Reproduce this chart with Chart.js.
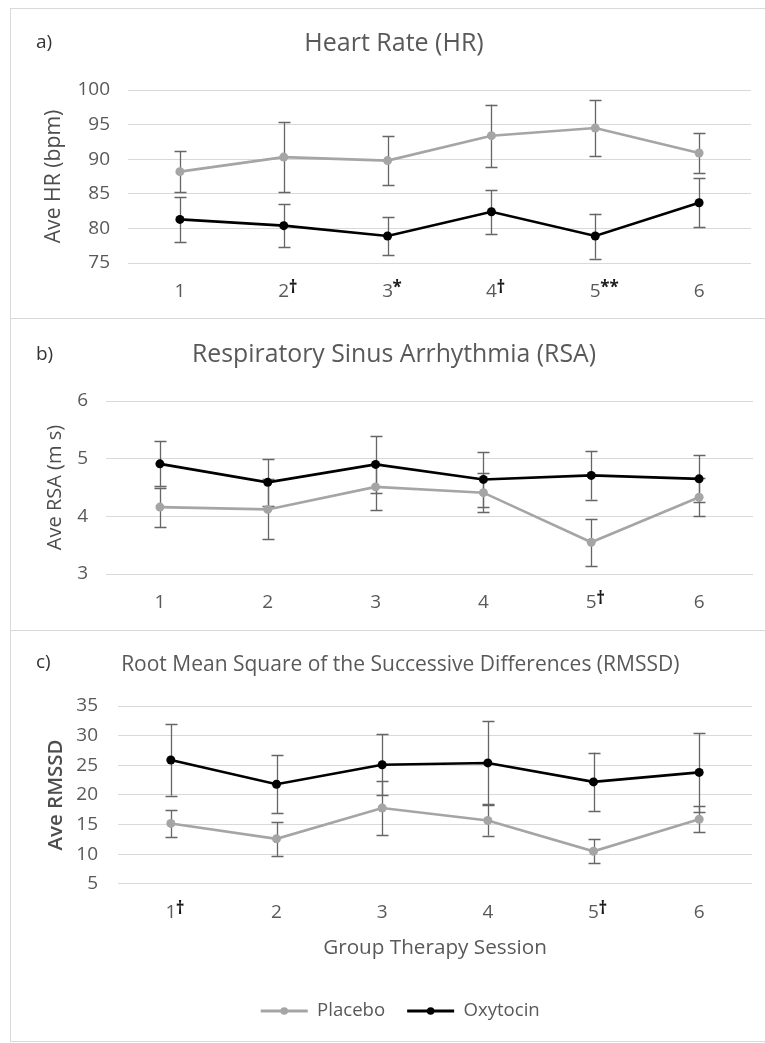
<!DOCTYPE html>
<html>
<head>
<meta charset="utf-8">
<script src="https://cdn.jsdelivr.net/npm/chart.js@4.4.1/dist/chart.umd.min.js"></script>
<style>
html,body{margin:0;padding:0;background:#fff;}
body{width:765px;height:1043px;position:relative;overflow:hidden;}
.frame{position:absolute;left:10px;top:8px;width:800px;height:1034px;border:1px solid #d9d9d9;box-sizing:border-box;}
.sep{position:absolute;left:10px;width:780px;height:0;border-top:1px solid #d9d9d9;}
canvas{position:absolute;display:block;}
</style>
</head>
<body>
<div class="frame"></div>
<div class="sep" style="top:318px"></div>
<div class="sep" style="top:630px"></div>
<canvas id="cA" width="755" height="310" style="left:10px;top:8px"></canvas>
<canvas id="cB" width="755" height="311" style="left:10px;top:319px"></canvas>
<canvas id="cC" width="755" height="410" style="left:10px;top:631px"></canvas>
<script>
// ---------------- DATA ----------------
const sessions = ['1', '2', '3', '4', '5', '6'];
const seriesNames = ['Placebo', 'Oxytocin'];

const hrMarks = ['', '†', '*', '†', '**', ''];
const rsaMarks = ['', '', '', '', '†', ''];
const rmssdMarks = ['†', '', '', '', '†', ''];

const hrPlacebo = [88.2, 90.3, 89.8, 93.4, 94.5, 90.9];
const hrPlaceboErr = [2.95, 5.05, 3.5, 4.5, 4.05, 2.85];
const hrOxytocin = [81.3, 80.4, 78.9, 82.4, 78.9, 83.7];
const hrOxytocinErr = [3.25, 3.1, 2.7, 3.2, 3.25, 3.55];

const rsaPlacebo = [4.16, 4.12, 4.51, 4.41, 3.55, 4.33];
const rsaPlaceboErr = [0.34, 0.52, 0.40, 0.34, 0.41, 0.33];
const rsaOxytocin = [4.91, 4.59, 4.90, 4.64, 4.71, 4.65];
const rsaOxytocinErr = [0.39, 0.41, 0.49, 0.47, 0.42, 0.41];

const rmssdPlacebo = [15.2, 12.6, 17.8, 15.7, 10.5, 15.9];
const rmssdPlaceboErr = [2.3, 2.9, 4.6, 2.55, 2.0, 2.2];
const rmssdOxytocin = [25.9, 21.8, 25.1, 25.4, 22.2, 23.8];
const rmssdOxytocinErr = [6.0, 4.9, 5.15, 7.0, 4.95, 6.6];

const hrAxis = [75, 100, 5];
const rsaAxis = [3, 6, 1];
const rmssdAxis = [5, 35, 5];

// ---------------- STYLE / HELPERS ----------------
const FAMILY = "'Open Sans', 'DejaVu Sans', sans-serif";
const TEXT = '#595959';
const PLACEBO_C = '#a5a5a5';
const OXY_C = '#000000';
const ERR_C = '#666666';

const mctx = document.createElement('canvas').getContext('2d');
function fitSize(text, width, weight) {
  mctx.font = (weight || 'normal') + ' 100px ' + FAMILY;
  return Math.round(1000 * width / mctx.measureText(text).width) / 10;
}

const errorBarPlugin = {
  id: 'errorBars',
  beforeDatasetsDraw(chart) {
    const ctx = chart.ctx, ys = chart.scales.y;
    ctx.save();
    ctx.strokeStyle = ERR_C;
    ctx.lineWidth = 1.3;
    chart.data.datasets.forEach((ds, d) => {
      const meta = chart.getDatasetMeta(d);
      meta.data.forEach((pt, i) => {
        const v = ds.data[i], e = ds.errors[i];
        const y1 = ys.getPixelForValue(v + e), y2 = ys.getPixelForValue(v - e);
        const x = Math.round(pt.x) + 0.5;
        ctx.beginPath();
        ctx.moveTo(x, y1); ctx.lineTo(x, y2);
        ctx.moveTo(x - 6, Math.round(y1) + 0.5); ctx.lineTo(x + 6, Math.round(y1) + 0.5);
        ctx.moveTo(x - 6, Math.round(y2) + 0.5); ctx.lineTo(x + 6, Math.round(y2) + 0.5);
        ctx.stroke();
      });
    });
    ctx.restore();
  }
};

const decorPlugin = {
  id: 'decor',
  afterDraw(chart, args, o) {
    const ctx = chart.ctx;
    ctx.save();
    // panel letter
    ctx.fillStyle = '#333333';
    ctx.font = 'normal 19px ' + FAMILY;
    ctx.textAlign = 'left';
    ctx.textBaseline = 'middle';
    ctx.fillText(o.letter, o.letterX, o.letterY);
    // superscript significance marks on tick labels
    const xs = chart.scales.x;
    ctx.font = 'bold 17px ' + FAMILY;
    ctx.fillStyle = '#1a1a1a';
    ctx.textBaseline = 'alphabetic';
    const labelCenter = chart.chartArea.bottom + o.xTickPad + 0.6 * o.tickSize;
    o.marks.forEach((m, i) => {
      if (!m) return;
      ctx.fillText(m, xs.getPixelForTick(i) + 5, labelCenter + 2);
    });
    // legend markers
    const lg = chart.legend;
    if (lg && lg.options.display && lg.legendHitBoxes) {
      lg.legendHitBoxes.forEach((hb, i) => {
        const item = lg.legendItems[i];
        ctx.fillStyle = item.fillStyle;
        ctx.beginPath();
        ctx.arc(hb.left + 47 / 2, hb.top + hb.height / 2, 3.8, 0, Math.PI * 2);
        ctx.fill();
      });
    }
    ctx.restore();
  }
};

function buildChart(id, p) {
  const titleSize = fitSize(p.title, p.titleWidth);
  const yTitleSize = fitSize(p.yTitle, p.yTitleWidth, p.yTitleWeight);
  const tickSize = 19;
  const L = p.padLeft;
  const scalesX = {
    type: 'category',
    offset: true,
    grid: { display: false, drawTicks: false },
    border: { display: false },
    ticks: { color: TEXT, font: { family: FAMILY, size: tickSize }, padding: p.xTickPad, maxRotation: 0, autoSkip: false },
    title: { display: false },
    afterFit: s => { s.height = p.xHeight; }
  };
  if (p.xTitle) {
    const xs = fitSize(p.xTitle, p.xTitleWidth);
    scalesX.title = { display: true, text: p.xTitle, color: TEXT, font: { family: FAMILY, size: xs }, padding: { top: 0, bottom: p.xTitlePadBottom - 0.6 * xs } };
  }
  let legendOpts = { display: false };
  if (p.legend) {
    const ls = fitSize('Placebo', 68);
    legendOpts = {
      display: true,
      position: 'bottom',
      labels: {
        color: TEXT,
        font: { family: FAMILY, size: ls },
        boxWidth: 47,
        boxHeight: 3,
        padding: 22,
        generateLabels: (chart) => chart.data.datasets.map((ds, i) => ({
          text: ds.label, fillStyle: ds.borderColor, strokeStyle: ds.borderColor,
          lineWidth: 0, hidden: false, datasetIndex: i, fontColor: TEXT
        }))
      }
    };
  }
  return new Chart(document.getElementById(id), {
    type: 'line',
    data: {
      labels: sessions,
      datasets: [
        { label: seriesNames[0], data: p.placebo, errors: p.placeboErr, borderColor: PLACEBO_C, backgroundColor: PLACEBO_C,
          borderWidth: 2.6, pointRadius: 4.5, pointBackgroundColor: PLACEBO_C, pointBorderColor: PLACEBO_C, pointBorderWidth: 0, tension: 0 },
        { label: seriesNames[1], data: p.oxy, errors: p.oxyErr, borderColor: OXY_C, backgroundColor: OXY_C,
          borderWidth: 2.6, pointRadius: 4.5, pointBackgroundColor: OXY_C, pointBorderColor: OXY_C, pointBorderWidth: 0, tension: 0 }
      ]
    },
    options: {
      responsive: false,
      animation: false,
      events: [],
      layout: { padding: { left: L, right: p.padRight, top: 0, bottom: p.padBottom || 0 } },
      plugins: {
        title: {
          display: true, text: p.title, color: TEXT,
          font: { family: FAMILY, size: titleSize, weight: 'normal', lineHeight: 1.2 },
          padding: { top: p.titleCenter - 0.6 * titleSize, bottom: p.chartTop - p.titleCenter - 0.6 * titleSize }
        },
        legend: legendOpts,
        tooltip: { enabled: false },
        decor: { letter: p.letter, letterX: 26, letterY: p.letterY, marks: p.marks, xTickPad: p.xTickPad, tickSize: tickSize }
      },
      scales: {
        x: scalesX,
        y: {
          min: p.axis[0], max: p.axis[1],
          ticks: { stepSize: p.axis[2], color: TEXT, font: { family: FAMILY, size: tickSize }, padding: p.yTickPad },
          grid: { color: '#d9d9d9', lineWidth: 1, drawTicks: false },
          border: { display: false },
          title: { display: true, text: p.yTitle, color: p.yTitleColor || TEXT,
                   font: { family: FAMILY, size: yTitleSize, weight: p.yTitleWeight || 'normal' },
                   padding: { top: p.yTitleCenter - L - 0.6 * yTitleSize, bottom: 0 } },
          afterFit: s => { s.width = p.chartLeft - L; }
        }
      }
    },
    plugins: [errorBarPlugin, decorPlugin]
  });
}

buildChart('cA', {
  title: 'Heart Rate (HR)', titleWidth: 179, titleCenter: 36, chartTop: 82,
  letter: 'a)', letterY: 35,
  yTitle: 'Ave HR (bpm)', yTitleWidth: 134, yTitleCenter: 44, yTitleColor: '#4d4d4d',
  padLeft: 27, padRight: 14, chartLeft: 118, yTickPad: 18,
  xHeight: 55, xTickPad: 17,
  axis: hrAxis, marks: hrMarks,
  placebo: hrPlacebo, placeboErr: hrPlaceboErr, oxy: hrOxytocin, oxyErr: hrOxytocinErr
});

buildChart('cB', {
  title: 'Respiratory Sinus Arrhythmia (RSA)', titleWidth: 404, titleCenter: 36, chartTop: 82,
  letter: 'b)', letterY: 36,
  yTitle: 'Ave RSA (m s)', yTitleWidth: 125, yTitleCenter: 45, yTitleColor: '#4d4d4d',
  padLeft: 25, padRight: 12, chartLeft: 96, yTickPad: 18,
  xHeight: 56, xTickPad: 17,
  axis: rsaAxis, marks: rsaMarks,
  placebo: rsaPlacebo, placeboErr: rsaPlaceboErr, oxy: rsaOxytocin, oxyErr: rsaOxytocinErr
});

buildChart('cC', {
  title: 'Root Mean Square of the Successive Differences (RMSSD)', titleWidth: 559, titleCenter: 34, chartTop: 75,
  letter: 'c)', letterY: 32,
  yTitle: 'Ave RMSSD', yTitleWidth: 111, yTitleCenter: 46, yTitleWeight: '600', yTitleColor: '#4d4d4d',
  padLeft: 38.5, padRight: 13, padBottom: 10.75, chartLeft: 108, yTickPad: 20,
  xHeight: 95.75, xTickPad: 17,
  xTitle: 'Group Therapy Session', xTitleWidth: 224, xTitlePadBottom: 31.75,
  legend: true,
  axis: rmssdAxis, marks: rmssdMarks,
  placebo: rmssdPlacebo, placeboErr: rmssdPlaceboErr, oxy: rmssdOxytocin, oxyErr: rmssdOxytocinErr
});
</script>
</body>
</html>
